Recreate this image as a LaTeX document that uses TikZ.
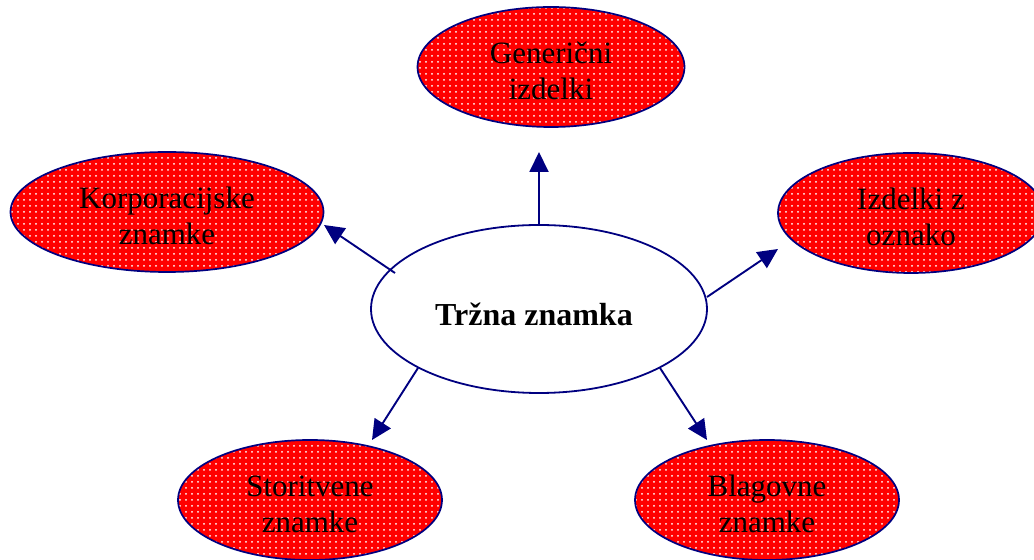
\documentclass[tikz,border=0pt]{standalone}
\usepackage{fontspec}
\setmainfont{Liberation Serif}
\usetikzlibrary{shapes.geometric,arrows.meta,patterns}
\definecolor{navy}{RGB}{0,0,128}
\begin{document}
\begin{tikzpicture}[x=0.5pt,y=-0.5pt,
  brand/.style={ellipse, draw=navy, line width=0.85pt, preaction={fill=red},
    pattern=dots, pattern color=white, inner sep=0pt, minimum height=60pt},
  brandtext/.style={align=center, inner sep=0pt, yshift=-2pt,
    font=\fontsize{15.5pt}{18pt}\selectfont},
  hub/.style={ellipse, draw=navy, line width=0.9pt, fill=white, inner sep=0pt,
    minimum width=168pt, minimum height=84pt},
  hubtext/.style={font=\bfseries\fontsize{16pt}{20pt}\selectfont, inner sep=0pt},
  arr/.style={draw=navy, line width=0.95pt, -{Triangle[length=10pt,width=9.5pt]}}]
\useasboundingbox (0,0) rectangle (1034,560);
\clip (0,0) rectangle (1034,560);
\node[brand, minimum width=133.5pt] (g) at (551,67) {};
\node[brand, minimum width=156.5pt] (k) at (167,212) {};
\node[brand, minimum width=133pt] (iz) at (911,213) {};
\node[brand, minimum width=132pt] (s) at (310,500) {};
\node[brand, minimum width=132pt] (b) at (767,500) {};
\node[brandtext] (gt) at (g) {Generični\\izdelki};
\node[brandtext] (kt) at (k) {Korporacijske\\znamke};
\node[brandtext] (izt) at (iz) {Izdelki z\\oznako};
\node[brandtext] (st) at (s) {Storitvene\\znamke};
\node[brandtext] (bt) at (b) {Blagovne\\znamke};
\node[hub] (c) at (539,309) {};
\node[hubtext] (ct) at (534,314) {Tržna znamka};
\coordinate (tg) at (539,152);
\coordinate (sk) at (395,273);
\coordinate (tk) at (324,225);
\coordinate (si) at (707,297);
\coordinate (ti) at (778,249);
\coordinate (ss) at (418,368);
\coordinate (ts) at (372,440);
\coordinate (sb) at (660,368);
\coordinate (tb) at (707,440);
\draw[arr] (c.north) -- (tg);
\draw[arr] (sk) -- (tk);
\draw[arr] (si) -- (ti);
\draw[arr] (ss) -- (ts);
\draw[arr] (sb) -- (tb);
\end{tikzpicture}
\end{document}
